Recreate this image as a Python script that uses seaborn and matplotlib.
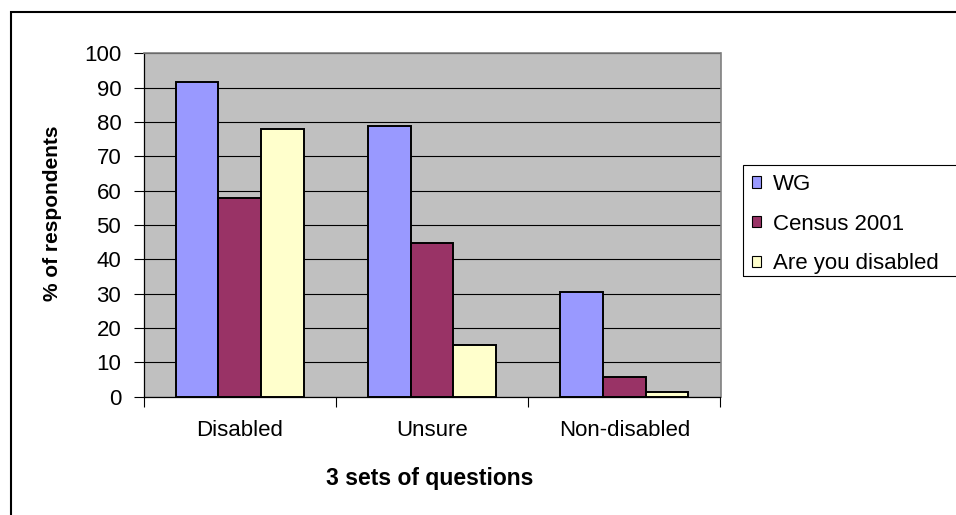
import matplotlib
matplotlib.use("Agg")
import matplotlib.pyplot as plt
import matplotlib.patches as mpatches
import seaborn as sns
import pandas as pd

# ---- data ----
categories = ["Disabled", "Unsure", "Non-disabled"]
series_names = ["WG", "Census 2001", "Are you disabled"]
wg = [91.7, 78.9, 30.6]
census_2001 = [58.0, 44.7, 5.6]
are_you_disabled = [77.9, 15.0, 1.5]
y_ticks = list(range(0, 101, 10))
x_label = "3 sets of questions"
y_label = "% of respondents"

colors = ["#9999FF", "#993366", "#FFFFCC"]

df = pd.DataFrame({
    "category": categories * 3,
    "series": [series_names[0]] * 3 + [series_names[1]] * 3 + [series_names[2]] * 3,
    "value": wg + census_2001 + are_you_disabled,
})

sns.set_style("white")
plt.rcParams["font.family"] = ["Liberation Sans", "DejaVu Sans"]
plt.rcParams["text.color"] = "black"
plt.rcParams["axes.labelcolor"] = "black"
plt.rcParams["xtick.color"] = "black"
plt.rcParams["ytick.color"] = "black"

W, H = 956, 515
fig = plt.figure(figsize=(W / 100, H / 100), dpi=100)
fig.patch.set_facecolor("white")

left, right, top, bottom = 143.5, 720.5, 53.3, 396.7
ax = fig.add_axes([left / W, 1 - bottom / H, (right - left) / W, (bottom - top) / H])

sns.barplot(data=df, x="category", y="value", hue="series", order=categories,
            hue_order=series_names, palette=colors, width=0.667, saturation=1,
            edgecolor="black", linewidth=1.4, ax=ax, legend=True, zorder=3)

ax.set_facecolor("#C0C0C0")
ax.set_xlim(-0.5, 2.5)
ax.set_ylim(0, 100)
ax.set_yticks(y_ticks)
ax.set_yticklabels([str(v) for v in y_ticks])
ax.yaxis.grid(True, color="black", linewidth=0.8, zorder=1)
ax.set_axisbelow(True)
ax.xaxis.grid(False)

ax.set_xticks(range(len(categories)))
ax.set_xticklabels(categories)
ax.set_xticks([-0.5, 0.5, 1.5, 2.5], minor=True)
ax.tick_params(axis="x", which="major", length=0, pad=17, labelsize=16, labelcolor="black")
ax.tick_params(axis="x", which="minor", length=7, width=0.8, color="black", direction="out", bottom=True)
ax.tick_params(axis="y", which="major", length=7, width=0.8, color="black", direction="out", left=True,
               pad=9, labelsize=16, labelcolor="black")

for side in ["top", "right"]:
    ax.spines[side].set_visible(True)
    ax.spines[side].set_color("#808080")
    ax.spines[side].set_linewidth(1.2)
for side in ["left", "bottom"]:
    ax.spines[side].set_visible(True)
    ax.spines[side].set_color("black")
    ax.spines[side].set_linewidth(0.9)

ax.set_xlabel("")
ax.set_ylabel("")
fig.text(430 / W, 1 - 478 / H, x_label, ha="center", va="center", fontsize=16.5,
         fontweight="bold", color="black")
fig.text(52.5 / W, 1 - 213.3 / H, y_label, ha="center", va="center", rotation=90,
         fontsize=15, fontweight="bold", color="black")

# legend
handles, labels = ax.get_legend_handles_labels()
old = ax.get_legend()
if old is not None:
    old.remove()
for h in handles:
    h.set_edgecolor("black")
    h.set_linewidth(0.8)
leg = fig.legend(handles, labels, loc="upper left",
                 bbox_to_anchor=(752 / W, 1 - 174 / H), bbox_transform=fig.transFigure,
                 frameon=False, fontsize=16, borderpad=0, borderaxespad=0,
                 handlelength=0.4, handleheight=0.4, handletextpad=0.55, labelspacing=0.84)
for t in leg.get_texts():
    t.set_color("black")

# legend frame (extends past the figure edge as in the reference)
fig.patches.append(mpatches.Rectangle((742.7 / W, 1 - 275.7 / H), 0.5, (275.7 - 165) / H,
                                      transform=fig.transFigure, fill=False,
                                      edgecolor="black", linewidth=0.8, clip_on=False))
# outer chart border
fig.patches.append(mpatches.Rectangle((10.5 / W, -0.2), 1.2, 1 - 11.5 / H + 0.2,
                                      transform=fig.transFigure, fill=False,
                                      edgecolor="black", linewidth=1.5, clip_on=False))

fig.savefig("out.png", dpi=100, facecolor="white")
